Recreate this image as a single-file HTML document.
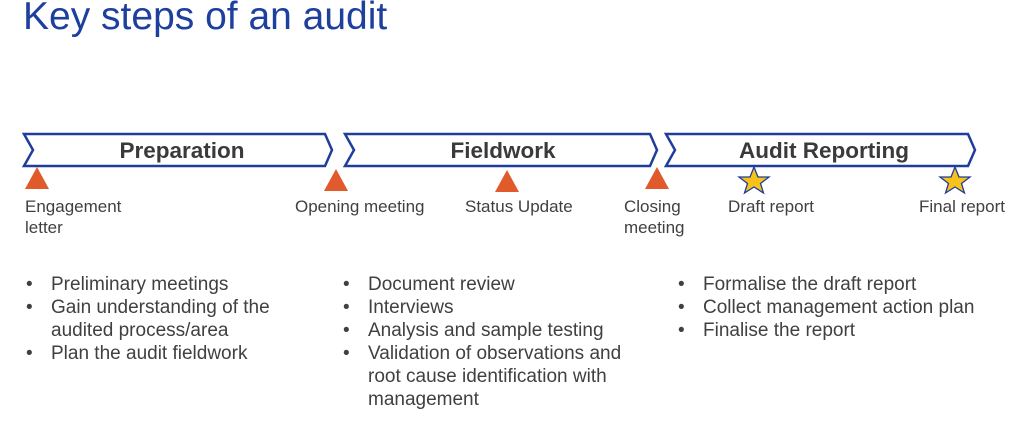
<!DOCTYPE html>
<html><head><style>
body{margin:0;width:1024px;height:432px;background:#fff;overflow:hidden;font-family:"Liberation Sans",sans-serif;position:relative}
.t{position:absolute;color:#404040;font-size:17px;line-height:21px;white-space:nowrap}
ul{position:absolute;margin:0;padding:0;list-style:none;color:#404040;font-size:19px;line-height:23px;white-space:nowrap}
li{position:relative;padding-left:27px}
li:before{content:"•";position:absolute;left:2px}
</style></head><body>
<div style="position:absolute;left:23px;top:-5px;font-size:39px;color:#1d3f9e;white-space:nowrap">Key steps of an audit</div>
<svg width="1024" height="432" style="position:absolute;left:0;top:0">
<g fill="#fff" stroke="#1f3d9c" stroke-width="2.5">
<polygon points="24,134 325,134 332,150 325,166 24,166 33,150"/>
<polygon points="345,134 650,134 657,150 650,166 345,166 354,150"/>
<polygon points="666,134 968,134 975,150 968,166 666,166 675,150"/>
</g>
<g font-family="Liberation Sans" font-weight="bold" font-size="22.5" fill="#3a3a3a" text-anchor="middle">
<text x="182" y="158">Preparation</text>
<text x="503" y="158">Fieldwork</text>
<text x="824" y="158">Audit Reporting</text>
</g>
<g fill="#e05a2b">
<polygon points="37,167 49,189 25,189"/>
<polygon points="336,169 348,191 324,191"/>
<polygon points="507,170 519,192 495,192"/>
<polygon points="657,167 669,189 645,189"/>
</g>
<g fill="#f7c21a" stroke="#1f3d9c" stroke-width="1.3">
<polygon points="754,167 758,177 769,177 760.5,183.5 763.5,193 754,187 744.5,193 747.5,183.5 739,177 750,177"/>
<polygon points="955,167 959,177 970,177 961.5,183.5 964.5,193 955,187 945.5,193 948.5,183.5 940,177 951,177"/>
</g>
</svg>
<div class="t" style="left:25px;top:196px">Engagement<br>letter</div>
<div class="t" style="left:295px;top:196px">Opening meeting</div>
<div class="t" style="left:465px;top:196px">Status Update</div>
<div class="t" style="left:624px;top:196px">Closing<br>meeting</div>
<div class="t" style="left:728px;top:196px">Draft report</div>
<div class="t" style="left:919px;top:196px">Final report</div>
<ul style="left:24px;top:273px"><li>Preliminary meetings</li><li>Gain understanding of the<br>audited process/area</li><li>Plan the audit fieldwork</li></ul>
<ul style="left:341px;top:273px"><li>Document review</li><li>Interviews</li><li>Analysis and sample testing</li><li>Validation of observations and<br>root cause identification with<br>management</li></ul>
<ul style="left:676px;top:273px"><li>Formalise the draft report</li><li>Collect management action plan</li><li>Finalise the report</li></ul>
</body></html>
